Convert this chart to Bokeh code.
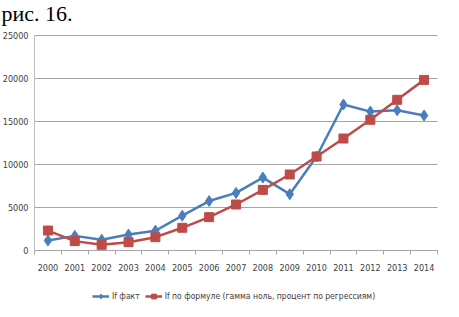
from bokeh.plotting import figure
from bokeh.models import FixedTicker, Label, Legend, LegendItem, Range1d
from bokeh.embed import file_html
from bokeh.resources import INLINE

years = [2000, 2001, 2002, 2003, 2004, 2005, 2006, 2007, 2008, 2009, 2010, 2011, 2012, 2013, 2014]
if_fact = [1160, 1700, 1250, 1850, 2300, 4050, 5750, 6700, 8480, 6550, 10930, 16980, 16150, 16300, 15700]
if_formula = [2320, 1090, 660, 970, 1550, 2640, 3880, 5350, 7050, 8840, 10930, 13020, 15200, 17520, 19840]
y_ticks = [0, 5000, 10000, 15000, 20000, 25000]

title_text = "рис. 16."
name_fact = "If факт"
name_formula = "If по формуле (гамма ноль, процент по регрессиям)"

BLUE = "#4A7EBB"
RED = "#BE4B48"
FONT = "DejaVu Sans Condensed, sans-serif"

W, H = 459, 317
# plot area inside the canvas (pixels)
FL, FR, FT, FB = 34, 437, 35, 250

x0, x1 = years[0] - 0.5, years[-1] + 0.5
y0, y1 = y_ticks[0], y_ticks[-1]
xs = (x1 - x0) / (FR - FL)
ys = (y1 - y0) / (FB - FT)

p = figure(width=W, height=H, output_backend="svg", toolbar_location=None,
           x_range=Range1d(x0 - FL * xs, x1 + (W - FR) * xs),
           y_range=Range1d(y0 - (H - FB) * ys, y1 + FT * ys),
           min_border=0, outline_line_color=None)
p.background_fill_color = "white"
p.border_fill_color = "white"

# gridlines
p.xgrid.grid_line_color = None
p.ygrid.grid_line_color = None
p.segment(x0=[x0] * len(y_ticks), x1=[x1] * len(y_ticks), y0=y_ticks, y1=y_ticks,
          line_color="#A6A6A6", line_width=1)

# x axis
p.xaxis.fixed_location = 0
p.xaxis.bounds = (x0, x1)
p.xaxis.ticker = FixedTicker(ticks=years, minor_ticks=[y - 0.5 for y in years] + [x1])
p.xaxis.major_tick_out = 0
p.xaxis.major_tick_in = 0
p.xaxis.minor_tick_out = 4
p.xaxis.minor_tick_in = 0
p.xaxis.minor_tick_line_color = "#A6A6A6"
p.xaxis.axis_line_color = "#A6A6A6"
p.xaxis.major_label_text_font = FONT
p.xaxis.major_label_text_font_size = "9px"
p.xaxis.major_label_text_color = "#404040"
p.xaxis.major_label_standoff = 9

# y axis
p.yaxis.fixed_location = x0
p.yaxis.bounds = (y0, y1)
p.yaxis.ticker = FixedTicker(ticks=y_ticks)
p.yaxis.major_tick_out = 0
p.yaxis.major_tick_in = 0
p.yaxis.minor_tick_out = 0
p.yaxis.minor_tick_in = 0
p.yaxis.axis_line_color = "#BFBFBF"
p.yaxis.major_label_text_font = FONT
p.yaxis.major_label_text_font_size = "9px"
p.yaxis.major_label_text_color = "#404040"
p.yaxis.major_label_standoff = 6

l1 = p.line(years, if_fact, line_color=BLUE, line_width=2.5)
s1 = p.scatter(years, if_fact, marker="diamond", size=11, fill_color=BLUE, line_color=BLUE)
l2 = p.line(years, if_formula, line_color=RED, line_width=2.5)
s2 = p.scatter(years, if_formula, marker="square", size=9, fill_color=RED, line_color=RED)

legend = Legend(items=[LegendItem(label=name_fact, renderers=[l1, s1]),
                       LegendItem(label=name_formula, renderers=[l2, s2])],
                orientation="horizontal", location=(92, 15),
                label_text_font=FONT, label_text_font_size="8.5px", label_text_color="#404040",
                glyph_width=17, glyph_height=12, label_height=12, label_standoff=3,
                spacing=5, padding=0, margin=0,
                border_line_color=None, background_fill_alpha=0)
p.add_layout(legend, "center")

p.add_layout(Label(x=1, y=H, x_units="screen", y_units="screen", text=title_text,
                   text_font="Liberation Serif, Times New Roman, serif", text_font_size="22px",
                   text_color="black", text_baseline="top"))

open("out.html", "w").write(file_html(p, INLINE))
